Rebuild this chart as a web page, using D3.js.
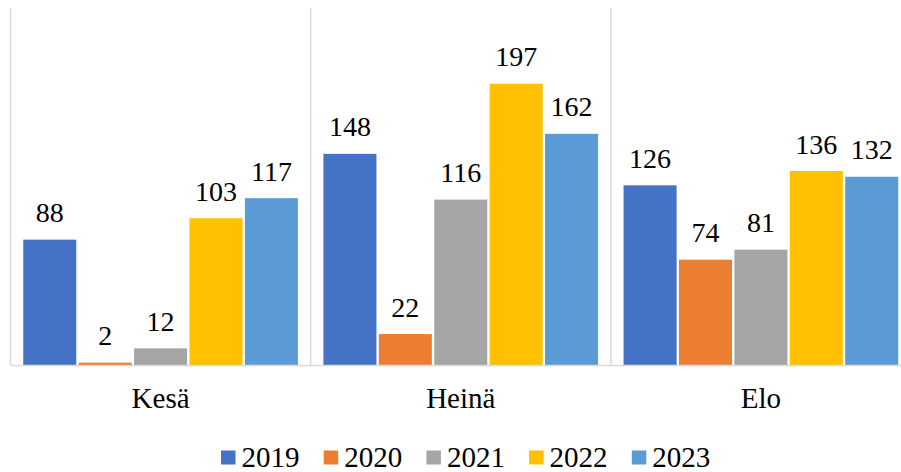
<!DOCTYPE html>
<html>
<head>
<meta charset="utf-8">
<script src="https://cdn.jsdelivr.net/npm/d3@7"></script>
<style>
  html, body { margin: 0; padding: 0; background: #fff; font-family: "Liberation Serif", "Tinos", "DejaVu Serif", serif; }
  svg { display: block; }
  svg text { font-family: "Liberation Serif", "Tinos", "DejaVu Serif", serif; }
</style>
</head>
<body>
<svg id="chart" width="901" height="472" style="font-family: 'Liberation Serif', Tinos, serif"></svg>
<script>
const categories = ["Kesä", "Heinä", "Elo"];
const seriesNames = ["2019", "2020", "2021", "2022", "2023"];
const values2019 = [88, 148, 126];
const values2020 = [2, 22, 74];
const values2021 = [12, 116, 81];
const values2022 = [103, 197, 136];
const values2023 = [117, 162, 132];
const seriesValues = [values2019, values2020, values2021, values2022, values2023];
const colors = ["#4472C4", "#ED7D31", "#A5A5A5", "#FFC000", "#5B9BD5"];
const yDomain = [0, 250];

const svg = d3.select("#chart");
const plotLeft = 10.5, plotRight = 911, plotTop = 8, baseline = 365.5;

const x0 = d3.scaleBand().domain(categories).range([plotLeft, plotRight]).padding(0);
const x1 = d3.scaleBand().domain(seriesNames).range([0, x0.bandwidth()])
  .paddingInner(0.043).paddingOuter(0.23);
const y = d3.scaleLinear().domain(yDomain).range([baseline, plotTop]);

// vertical separators
const seps = categories.map(c => x0(c)).concat([x0(categories[categories.length-1]) + x0.bandwidth()]);
svg.append("g").selectAll("line").data(seps).join("line")
  .attr("x1", d => d).attr("x2", d => d)
  .attr("y1", plotTop).attr("y2", baseline)
  .attr("stroke", "#d9d9d9").attr("stroke-width", 1.5);

// bars
const data = [];
categories.forEach((c, ci) => {
  seriesNames.forEach((s, si) => {
    data.push({cat: c, series: s, value: seriesValues[si][ci], color: colors[si]});
  });
});

svg.append("g").selectAll("rect").data(data).join("rect")
  .attr("x", d => x0(d.cat) + x1(d.series))
  .attr("width", x1.bandwidth())
  .attr("y", d => y(d.value))
  .attr("height", d => baseline - y(d.value))
  .attr("fill", d => d.color);

// baseline
svg.append("line")
  .attr("x1", plotLeft).attr("x2", plotRight)
  .attr("y1", baseline).attr("y2", baseline)
  .attr("stroke", "#d9d9d9").attr("stroke-width", 1.5);

// value labels
svg.append("g").selectAll("text").data(data).join("text")
  .attr("x", d => x0(d.cat) + x1(d.series) + x1.bandwidth() / 2)
  .attr("y", d => y(d.value) - 17.5)
  .attr("text-anchor", "middle")
  .attr("font-size", 28)
  .attr("fill", "#000")
  .text(d => d.value);

// category labels
svg.append("g").selectAll("text").data(categories).join("text")
  .attr("x", d => x0(d) + x0.bandwidth() / 2)
  .attr("y", 408)
  .attr("text-anchor", "middle")
  .attr("font-size", 29)
  .attr("fill", "#000")
  .text(d => d);

// legend
const legendX = d3.scaleBand().domain(seriesNames).range([221, 221 + 102.7 * 5]);
const lg = svg.append("g").selectAll("g").data(seriesNames).join("g")
  .attr("transform", d => `translate(${legendX(d)},0)`);
lg.append("rect").attr("x", 0).attr("y", 450.5).attr("width", 14.5).attr("height", 14)
  .attr("fill", (d, i) => colors[i]);
lg.append("text").attr("x", 20.5).attr("y", 466.5)
  .attr("font-size", 29).attr("fill", "#000").text(d => d);
</script>
</body>
</html>
